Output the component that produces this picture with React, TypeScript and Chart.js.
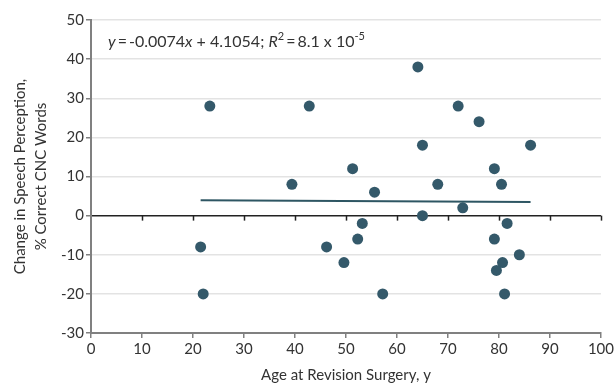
import React, { useEffect, useRef } from "react";
import { Chart, registerables } from "chart.js";

Chart.register(...registerables);

const ages = [23.3, 42.8, 39.4, 21.5, 22.0, 64.1, 72.0, 76.1, 65.0, 86.2, 51.3, 79.1, 55.6, 68.0, 80.5, 65.0, 72.9, 53.2, 81.6, 52.3, 79.1, 46.2, 49.6, 84.0, 80.7, 79.5, 57.2, 81.1];
const changes = [28, 28, 8, -8, -20, 38, 28, 24, 18, 18, 12, 12, 6, 8, 8, 0, 2, -2, -2, -6, -6, -8, -12, -10, -12, -14, -20, -20];
const fitSlope = -0.0074;
const fitIntercept = 4.1054;
const fitRange = [21.5, 86.2];
const xTicks = [0, 10, 20, 30, 40, 50, 60, 70, 80, 90, 100];
const yTicks = [-30, -20, -10, 0, 10, 20, 30, 40, 50];

const FONT = "Lato";
const TEXT = "#333333";
const POINT = "#34596a";

const overlayPlugin = {
  id: "overlay",
  afterDatasetsDraw(chart: any) {
    const ctx = chart.ctx;
    const xs = chart.scales.x;
    const ys = chart.scales.y;
    const area = chart.chartArea;
    const y0 = ys.getPixelForValue(0);
    ctx.save();
    ctx.strokeStyle = "#222222";
    ctx.lineWidth = 1.5;
    xTicks.forEach((v) => {
      if (v === 0) return;
      const px = Math.round(xs.getPixelForValue(v)) + 0.5;
      ctx.beginPath();
      ctx.moveTo(px, y0);
      ctx.lineTo(px, y0 + 5);
      ctx.stroke();
    });
    ctx.restore();

    ctx.save();
    ctx.fillStyle = TEXT;
    ctx.textBaseline = "alphabetic";
    let x = area.left + 17;
    const base = area.top + 27;
    const seg = (t: string, italic = false, sup = false) => {
      ctx.font = `${italic ? "italic " : ""}${sup ? 11 : 16}px ${FONT}`;
      ctx.fillText(t, x, sup ? base - 7 : base);
      x += ctx.measureText(t).width;
    };
    seg("y", true);
    seg("\u2009=\u2009-0.0074");
    seg("x", true);
    seg(" + 4.1054; ");
    seg("R", true);
    seg("2", false, true);
    seg("\u2009=\u20098.1 x 10");
    seg("-5", false, true);
    ctx.restore();
  },
};

export default function App() {
  const ref = useRef<HTMLCanvasElement>(null);
  useEffect(() => {
    if (!ref.current) return;
    const chart = new Chart(ref.current, {
      type: "scatter",
      data: {
        datasets: [
          {
            type: "line",
            data: fitRange.map((x) => ({ x, y: fitSlope * x + fitIntercept })),
            borderColor: "#2e5663",
            borderWidth: 2,
            pointRadius: 0,
            fill: false,
          } as any,
          {
            data: ages.map((a, i) => ({ x: a, y: changes[i] })),
            backgroundColor: POINT,
            borderColor: POINT,
            pointRadius: 5.5,
            pointBorderWidth: 0,
          },
        ],
      },
      options: {
        animation: false,
        responsive: false,
        layout: { padding: { top: 20, right: 14, left: 0, bottom: 0 } },
        plugins: { legend: { display: false }, tooltip: { enabled: false } },
        scales: {
          x: {
            type: "linear",
            min: 0,
            max: 100,
            afterBuildTicks: (s: any) => {
              s.ticks = xTicks.map((v) => ({ value: v }));
            },
            afterFit: (s: any) => {
              s.height = 51;
            },
            border: { display: true, color: "#808080", width: 2 },
            grid: { drawOnChartArea: false, drawTicks: true, tickLength: 5, tickColor: "#808080", lineWidth: 1.5 },
            ticks: { color: TEXT, font: { family: FONT, size: 15 }, padding: 2, maxRotation: 0 },
            title: {
              display: true,
              text: "Age at Revision Surgery, y",
              color: TEXT,
              font: { family: FONT, size: 15 },
              padding: { top: 2, bottom: 0 },
            },
          },
          y: {
            type: "linear",
            min: -30,
            max: 50,
            afterBuildTicks: (s: any) => {
              s.ticks = yTicks.map((v) => ({ value: v }));
            },
            afterFit: (s: any) => {
              s.width = 91;
            },
            border: { display: true, color: "#808080", width: 2 },
            grid: {
              drawTicks: true,
              tickLength: 5,
              tickColor: "#808080",
              lineWidth: 1.5,
              color: (c: any) => (c.tick && c.tick.value === 0 ? "#222222" : "#e3e3e3"),
            },
            ticks: { color: TEXT, font: { family: FONT, size: 15 }, padding: 2 },
            title: {
              display: true,
              text: ["Change in Speech Perception,", "% Correct CNC Words"],
              color: TEXT,
              font: { family: FONT, size: 15, lineHeight: 1.4 },
              padding: { top: 10, bottom: 4 },
            },
          },
        },
      },
      plugins: [overlayPlugin],
    });
    return () => chart.destroy();
  }, []);
  return (
    <div style={{ position: "fixed", left: 0, top: 0, width: 616, height: 384, background: "#fff" }}>
      <canvas ref={ref} width={616} height={384} />
    </div>
  );
}
